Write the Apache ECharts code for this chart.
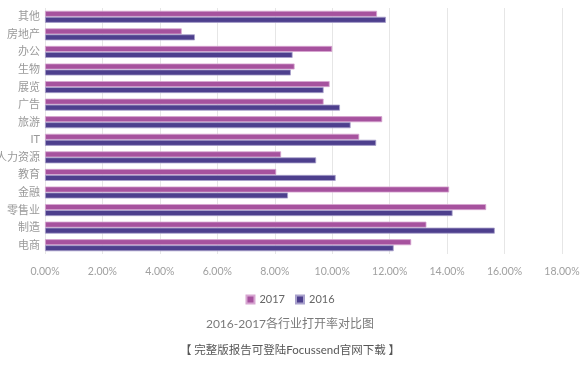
<!DOCTYPE html>
<html><head><meta charset="utf-8">
<script src="https://cdn.jsdelivr.net/npm/echarts@6/dist/echarts.min.js"></script>
<style>html,body{margin:0;padding:0;background:#fff}#c{width:580px;height:369px}</style>
</head><body><div id="c"></div>
<script>
const categories = ['其他','房地产','办公','生物','展览','广告','旅游','IT','人力资源','教育','金融','零售业','制造','电商'];
const values2017 = [11.56, 4.76, 10.0, 8.69, 9.91, 9.70, 11.74, 10.94, 8.22, 8.05, 14.07, 15.36, 13.28, 12.75];
const values2016 = [11.87, 5.22, 8.62, 8.56, 9.70, 10.27, 10.64, 11.53, 9.44, 10.12, 8.46, 14.19, 15.66, 12.14];
const xTicks = [0, 2, 4, 6, 8, 10, 12, 14, 16, 18];
const seriesNames = ['2017', '2016'];
const titleText = '2016-2017各行业打开率对比图';
const noteText = '【 完整版报告可登陆Focussend官网下载 】';

const font = 'Lato, "Noto Sans CJK SC", sans-serif';
const chart = echarts.init(document.getElementById('c'));
chart.setOption({
  animation: false,
  textStyle: {fontFamily: font},
  title: [
    {text: titleText, left: 'center', top: 313, textStyle: {fontSize: 12, fontWeight: 'normal', color: '#7a7a7a', fontFamily: font}},
    {text: noteText, left: 'center', top: 340, textStyle: {fontSize: 11.5, fontWeight: 'normal', color: '#555', fontFamily: font}}
  ],
  legend: {
    data: seriesNames, left: 'center', top: 289, itemWidth: 8, itemHeight: 8, itemGap: 10,
    icon: 'rect', textStyle: {fontSize: 11, color: '#666', fontFamily: font}
  },
  grid: {left: 45, right: 18, top: 8, bottom: 115, containLabel: false, outerBoundsMode: 'none'},
  xAxis: {
    type: 'value', min: xTicks[0], max: xTicks[xTicks.length - 1], interval: 2,
    axisLine: {show: false}, axisTick: {show: false},
    splitLine: {lineStyle: {color: '#e6e6e6'}},
    axisLabel: {color: '#a0a0a0', fontSize: 10.5, margin: 12, formatter: v => v.toFixed(2) + '%'}
  },
  yAxis: {
    type: 'category', data: categories, inverse: true,
    axisLine: {show: false}, axisTick: {show: false},
    axisLabel: {color: '#999', fontSize: 11, margin: 5}
  },
  series: [
    {name: seriesNames[0], type: 'bar', data: values2017, barWidth: 6, barGap: '0%',
     itemStyle: {color: '#a6529e', borderColor: '#d7a6d1', borderWidth: 0.8}},
    {name: seriesNames[1], type: 'bar', data: values2016, barWidth: 6, barGap: '0%',
     itemStyle: {color: '#4d3f8d', borderColor: '#a9a1cc', borderWidth: 0.8}}
  ]
});
</script></body></html>
